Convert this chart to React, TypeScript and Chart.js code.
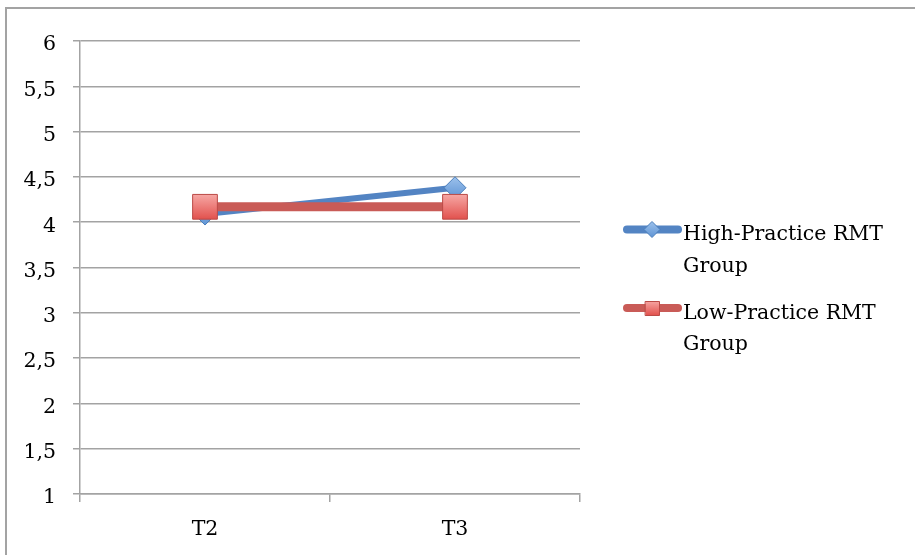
import React, { useEffect, useRef } from "react";
import { Chart, registerables } from "chart.js";

Chart.register(...registerables);

const categories = ["T2", "T3"];
const highPractice = [4.09, 4.38];
const lowPractice = [4.17, 4.17];
const seriesNames = ["High-Practice RMT Group", "Low-Practice RMT Group"];
const legendLines = [["High-Practice RMT", "Group"], ["Low-Practice RMT", "Group"]];

const FONT = "'DejaVu Serif', serif";
const FONT_SIZE = 20.5;
const GRID = "#a3a3a3";
const BLUE = "#5384c3";
const BLUE_EDGE = "#4a7ebb";
const RED = "#c95b57";
const RED_EDGE = "#bb4a46";

function redFill(ctx: CanvasRenderingContext2D, y: number, half: number) {
  if (!isFinite(y)) return "#ee807c";
  const g = ctx.createLinearGradient(0, y - half, 0, y + half);
  g.addColorStop(0, "#f6a6a3");
  g.addColorStop(1, "#e2534f");
  return g;
}
function blueFill(ctx: CanvasRenderingContext2D, y: number, half: number) {
  if (!isFinite(y)) return "#7aa8df";
  const g = ctx.createLinearGradient(0, y - half, 0, y + half);
  g.addColorStop(0, "#9cc1ec");
  g.addColorStop(1, "#5f94d4");
  return g;
}

const legendPlugin = {
  id: "customLegend",
  afterDraw(chart: any) {
    const ctx: CanvasRenderingContext2D = chart.ctx;
    const x0 = 623;
    const x1 = 682;
    const lineYs = [229.5, 308];
    const baseYs = [[240, 272], [319, 350]];
    const colors = [BLUE, RED];
    ctx.save();
    lineYs.forEach((y, i) => {
      ctx.strokeStyle = colors[i];
      ctx.lineWidth = 8;
      ctx.lineCap = "round";
      ctx.beginPath();
      ctx.moveTo(x0 + 4, y);
      ctx.lineTo(x1 - 4, y);
      ctx.stroke();
      const cx = 652;
      if (i === 0) {
        const r = 8;
        ctx.fillStyle = blueFill(ctx, y, r);
        ctx.strokeStyle = BLUE_EDGE;
        ctx.lineWidth = 1;
        ctx.lineCap = "butt";
        ctx.beginPath();
        ctx.moveTo(cx, y - r);
        ctx.lineTo(cx + r, y);
        ctx.lineTo(cx, y + r);
        ctx.lineTo(cx - r, y);
        ctx.closePath();
        ctx.fill();
        ctx.stroke();
      } else {
        const h = 7;
        ctx.fillStyle = redFill(ctx, y, h);
        ctx.strokeStyle = RED_EDGE;
        ctx.lineWidth = 1;
        ctx.beginPath();
        ctx.rect(cx - h + 0.5, y - h + 0.5, 2 * h, 2 * h);
        ctx.fill();
        ctx.stroke();
      }
      ctx.fillStyle = "#000";
      ctx.font = `${FONT_SIZE}px ${FONT}`;
      ctx.textAlign = "left";
      ctx.textBaseline = "alphabetic";
      legendLines[i].forEach((t, k) => ctx.fillText(t, 683, baseYs[i][k]));
    });
    ctx.restore();
  },
};

export default function App() {
  const ref = useRef<HTMLCanvasElement>(null);
  useEffect(() => {
    if (!ref.current) return;
    const chart = new Chart(ref.current, {
      type: "line",
      data: {
        labels: categories,
        datasets: [
          {
            label: seriesNames[0],
            data: highPractice,
            borderColor: BLUE,
            borderWidth: 6,
            tension: 0,
            pointStyle: "rectRot",
            pointRadius: 11,
            pointBorderWidth: 1,
            pointBorderColor: BLUE_EDGE,
            pointBackgroundColor: (c: any) => {
              const chart = c.chart;
              if (!chart.scales || !chart.scales.y || c.parsed == null) return "#7aa8df";
              const y = chart.scales.y.getPixelForValue(c.parsed.y);
              return blueFill(chart.ctx, y, 11);
            },
            order: 1,
          },
          {
            label: seriesNames[1],
            data: lowPractice,
            borderColor: RED,
            borderWidth: 9,
            tension: 0,
            pointStyle: "rect",
            pointRadius: 17.5,
            pointBorderWidth: 1,
            pointBorderColor: RED_EDGE,
            pointBackgroundColor: (c: any) => {
              const chart = c.chart;
              if (!chart.scales || !chart.scales.y || c.parsed == null) return "#ee807c";
              const y = chart.scales.y.getPixelForValue(c.parsed.y);
              return redFill(chart.ctx, y, 12);
            },
            order: 0,
          },
        ],
      },
      options: {
        responsive: false,
        animation: false,
        layout: { padding: { left: 0, top: 41, right: 335, bottom: 0 } },
        plugins: {
          legend: { display: false },
          tooltip: { enabled: false },
        },
        scales: {
          x: {
            offset: true,
            grid: {
              offset: true,
              drawOnChartArea: false,
              drawTicks: true,
              tickLength: 8,
              color: GRID,
              lineWidth: 1.5,
            },
            border: { color: GRID, width: 1.5 },
            ticks: {
              color: "#000",
              font: { family: FONT, size: FONT_SIZE },
              padding: 15,
            },
            afterFit: (s: any) => {
              s.height = 61;
            },
          },
          y: {
            min: 1,
            max: 6,
            grid: { color: GRID, lineWidth: 1.5, tickLength: 7 },
            border: { color: GRID, width: 1.5 },
            ticks: {
              stepSize: 0.5,
              color: "#000",
              padding: 17,
              labelOffset: 4,
              font: { family: FONT, size: FONT_SIZE },
              callback: (v: any) => String(v).replace(".", ","),
            },
            afterFit: (s: any) => {
              s.width = 80;
            },
          },
        },
      },
      plugins: [legendPlugin],
    });
    return () => chart.destroy();
  }, []);

  return (
    <div
      style={{
        position: "fixed",
        left: 0,
        top: 0,
        width: 915,
        height: 555,
        overflow: "hidden",
        background: "#fff",
      }}
    >
      <div
        style={{
          position: "absolute",
          left: 5,
          top: 7,
          width: 910,
          height: 548,
          borderTop: "2px solid #a3a3a3",
          borderLeft: "2px solid #a3a3a3",
          boxSizing: "border-box",
        }}
      />
      <canvas
        ref={ref}
        width={915}
        height={555}
        style={{ position: "absolute", left: 0, top: 0 }}
      />
    </div>
  );
}
